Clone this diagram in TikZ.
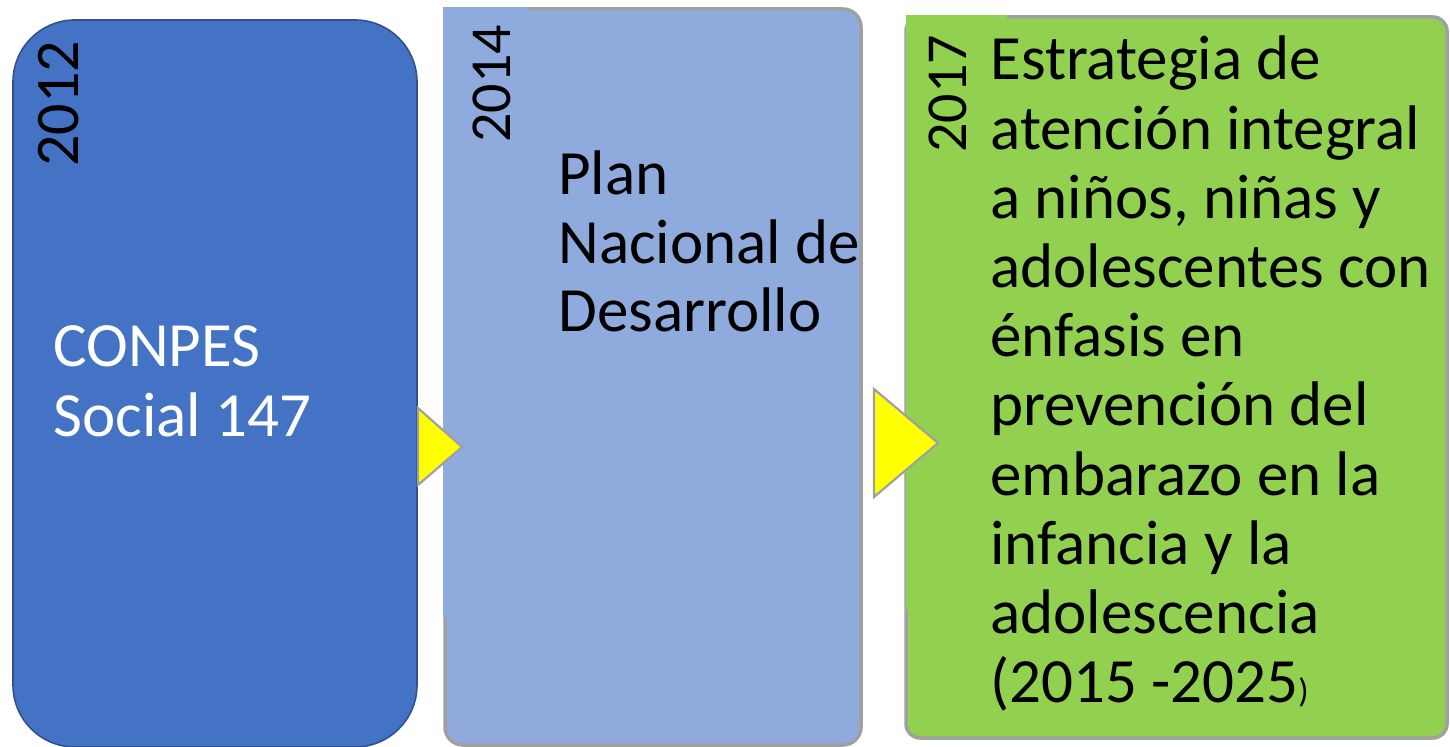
\documentclass[tikz,border=0pt]{standalone}
\usepackage{fontspec}
\setmainfont{Carlito}
\definecolor{boxblue}{HTML}{4472C4}
\definecolor{boxblueline}{HTML}{2F528F}
\definecolor{boxlight}{HTML}{8FAADC}
\definecolor{boxgreen}{HTML}{92D050}
\definecolor{edgegray}{HTML}{A0A0A0}
\definecolor{arrowyellow}{HTML}{FFFF00}
\tikzset{
  bigtext/.style={anchor=base west, inner sep=0pt},
  yeartext/.style={rotate=90, anchor=base west, inner sep=0pt},
  arrowtri/.style={fill=arrowyellow, draw=edgegray, line width=1.1pt, line join=miter},
}
\begin{document}
\begin{tikzpicture}[x=0.5pt,y=-0.5pt]
\useasboundingbox (0,0) rectangle (1450,747);
% box 1
\draw[fill=boxblue, draw=boxblueline, line width=0.8pt, rounded corners=31pt] (13,20) rectangle (417,747);
% box 2
\draw[fill=boxlight, draw=edgegray, line width=1.75pt, rounded corners=9pt] (445,9) rectangle (861,745);
\fill[boxlight] (443,7) rectangle (528,617);
% box 3
\draw[fill=boxgreen, draw=edgegray, line width=1.75pt, rounded corners=7pt] (906,17) rectangle (1447,738);
\fill[boxgreen] (906.4,15) rectangle (1007,610);
% arrows
\draw[arrowtri] (418,408) -- (418,485) -- (462,447) -- cycle;
\draw[arrowtri] (874,389) -- (874,497) -- (938,443) -- cycle;
% years
\node[yeartext, font=\fontsize{31}{31}\selectfont] (y2012) at (78,167) {2012};
\node[yeartext, font=\fontsize{29}{29}\selectfont] (y2014) at (510,143) {2014};
\node[yeartext, font=\fontsize{29}{29}\selectfont] (y2017) at (966,153) {2017};
% texts
\node[bigtext, text=white] (t1) at (53,367) {\parbox[t]{300pt}{\fontsize{31.5}{35}\selectfont CONPES\\Social 147}};
\node[bigtext] (t2) at (558,195) {\parbox[t]{300pt}{\fontsize{31.5}{34.25}\selectfont Plan\\Nacional de\\Desarrollo}};
\node[bigtext] (t3) at (990,80) {\parbox[t]{300pt}{\fontsize{31.5}{34.6}\selectfont Estrategia de\\atención integral\\a niños, niñas y\\adolescentes con\\énfasis en\\prevención del\\embarazo en la\\infancia y la\\adolescencia\\(2015 -2025{\fontsize{17}{17}\selectfont)}}};
\end{tikzpicture}
\end{document}
